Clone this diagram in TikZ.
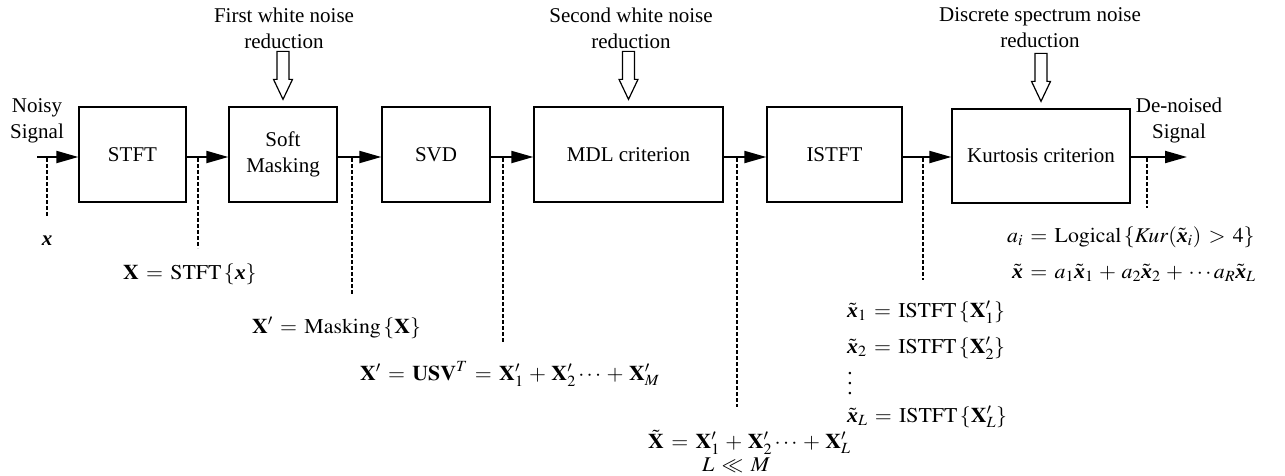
\documentclass[tikz,border=0pt]{standalone}
\usepackage{amsmath}
\usepackage{graphicx}
\usepackage{mathptmx}
\usepackage{fontspec}
\setmainfont{Liberation Serif}
\usetikzlibrary{arrows.meta,calc}
\newcommand{\bxx}{\text{\bfseries\itshape x}}
\newcommand{\fm}[1]{\scalebox{1.04}[1]{$\thickmuskip=6mu\medmuskip=4.5mu #1$}}
\newcommand{\hollowarrow}[1]{%
  \draw[hol] ($(#1.north)+(-6,-55)$) -- ++(0,28) -- ++(-3.5,0) -- ++(9.5,20)
    -- ++(9.5,-20) -- ++(-3.5,0) -- ++(0,-28) -- cycle;}
\begin{document}
\begin{tikzpicture}[x=1pt,y=-1pt,
  every node/.style={font=\fontsize{21}{26}\selectfont, inner sep=0pt},
  blk/.style={draw, line width=1.3pt, minimum height=95pt, align=center},
  sig/.style={line width=2pt, -{Triangle[length=22pt,width=12pt]}},
  dotl/.style={line width=1.8pt, dash pattern=on 3.5pt off 2.5pt},
  hol/.style={draw, line width=1.2pt, fill=white, line join=miter},
  ttl/.style={align=center},
  lbl/.style={anchor=base west}]
\useasboundingbox (0,0) rectangle (1285,475);
\fill[white] (0,0) rectangle (1285,475);

% blocks
\coordinate (row) at (0,157);
\node[blk, minimum width=107pt] (stft) at (132.5,154.5) {STFT};
\node[blk, minimum width=108pt] (soft) at (283,154.5) {Soft\\Masking};
\node[blk, minimum width=108pt] (svd) at (436,154.5) {SVD};
\node[blk, minimum width=189pt] (mdl) at (628.5,154.5) {MDL criterion};
\node[blk, minimum width=135pt] (istft) at (834.5,154.5) {ISTFT};
\node[blk, minimum width=178pt, minimum height=94pt] (kurt) at (1041,156) {Kurtosis criterion};

% input / output labels
\node[ttl] (noisy) at (37,121) {Noisy\\Signal};
\node[ttl] (denoised) at (1179,120) {De-noised\\Signal};

% signal arrows
\coordinate (in) at (37,157);
\coordinate (out) at (1187,157);
\draw[sig] (in) -- (stft.west |- row);
\draw[sig] (stft.east |- row) -- (soft.west |- row);
\draw[sig] (soft.east |- row) -- (svd.west |- row);
\draw[sig] (svd.east |- row) -- (mdl.west |- row);
\draw[sig] (mdl.east |- row) -- (istft.west |- row);
\draw[sig] (istft.east |- row) -- (kurt.west |- row);
\draw[sig] (kurt.east |- row) -- (out);

% titles and hollow arrows
\node[ttl] (t1) at (284,28) {First white noise\\reduction};
\node[ttl] (t2) at (631,28) {Second white noise\\reduction};
\node[ttl] (t3) at (1040,28) {Discrete spectrum noise\\reduction};
\hollowarrow{soft}
\hollowarrow{mdl}
\hollowarrow{kurt}

% dotted taps
\coordinate (d0a) at (47,158);  \coordinate (d0b) at (47,217);
\coordinate (d1a) at (198,158); \coordinate (d1b) at (198,248);
\coordinate (d2a) at (352,158); \coordinate (d2b) at (352,295);
\coordinate (d3a) at (503,158); \coordinate (d3b) at (503,343);
\coordinate (d4a) at (737,158); \coordinate (d4b) at (737,407);
\coordinate (d5a) at (923,158); \coordinate (d5b) at (923,280);
\coordinate (d6a) at (1147,158); \coordinate (d6b) at (1147,208);
\draw[dotl] (d0a) -- (d0b);
\draw[dotl] (d1a) -- (d1b);
\draw[dotl] (d2a) -- (d2b);
\draw[dotl] (d3a) -- (d3b);
\draw[dotl] (d4a) -- (d4b);
\draw[dotl] (d5a) -- (d5b);
\draw[dotl] (d6a) -- (d6b);

% formulas
\node[anchor=base] (fx) at (47,245) {$\bxx$};
\node[lbl] (f1) at (123,279) {\fm{\mathbf{X} = \mathrm{STFT}\,\{\bxx\}}};
\node[lbl] (f2) at (252,333) {\fm{\mathbf{X}' = \mathrm{Masking}\,\{\mathbf{X}\}}};
\node[lbl] (f3) at (360,380) {\fm{\mathbf{X}' = \mathbf{USV}^{T} = \mathbf{X}'_1 + \mathbf{X}'_2 \cdots + \mathbf{X}'_M}};
\node[lbl] (f4) at (648,448) {\fm{\tilde{\mathbf{X}} = \mathbf{X}'_1 + \mathbf{X}'_2 \cdots + \mathbf{X}'_L}};
\node[lbl] (f4b) at (702,471) {\fm{L \ll M}};
\node[lbl] (f5) at (847,317) {\fm{\tilde{\bxx}_1 = \mathrm{ISTFT}\,\{\mathbf{X}'_1\}}};
\node[lbl] (f6) at (847,353) {\fm{\tilde{\bxx}_2 = \mathrm{ISTFT}\,\{\mathbf{X}'_2\}}};
\node[align=center, font=\fontsize{21}{10}\selectfont] (f7) at (850,384) {.\\.\\.};
\node[lbl] (f8) at (847,422) {\fm{\tilde{\bxx}_L = \mathrm{ISTFT}\,\{\mathbf{X}'_L\}}};
\node[lbl] (f9) at (1007,242) {\fm{a_i = \mathrm{Logical}\,\{\mathit{Kur}(\tilde{\bxx}_i) > 4\}}};
\node[lbl] (f10) at (1012,278) {\fm{\tilde{\bxx} = a_1\tilde{\bxx}_1 + a_2\tilde{\bxx}_2 + \cdots a_R\tilde{\bxx}_L}};
\end{tikzpicture}
\end{document}
